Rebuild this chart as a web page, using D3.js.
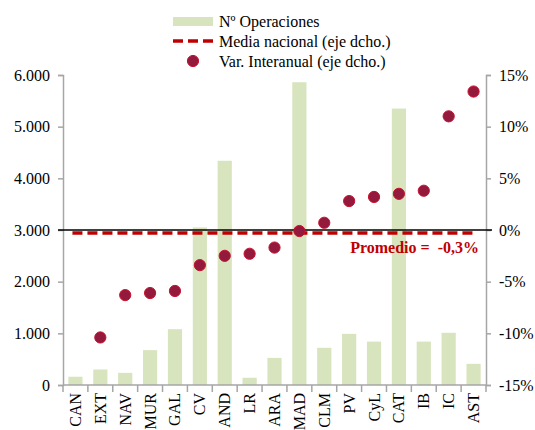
<!DOCTYPE html>
<html>
<head>
<meta charset="utf-8">
<script src="https://cdn.jsdelivr.net/npm/d3@7"></script>
<style>
  body { margin: 0; background: #fff; }
  text { font-family: "Liberation Serif", "Times New Roman", serif; }
</style>
</head>
<body>
<svg id="chart" width="535" height="430"></svg>
<script>
var regiones = ["CAN", "EXT", "NAV", "MUR", "GAL", "CV", "AND", "LR", "ARA", "MAD", "CLM", "PV", "CyL", "CAT", "IB", "IC", "AST"];
var operaciones = [160, 300, 235, 675, 1080, 3050, 4340, 140, 525, 5860, 720, 990, 840, 5350, 840, 1010, 410];
// CAN queda fuera de escala (sin punto)
var varInteranual = [null, -10.4, -6.3, -6.1, -5.9, -3.4, -2.5, -2.3, -1.7, -0.1, 0.7, 2.8, 3.2, 3.5, 3.8, 11.0, 13.4];
var mediaNacional = -0.3;
var ticksIzq = [0, 1000, 2000, 3000, 4000, 5000, 6000];
var ticksDer = [-15, -10, -5, 0, 5, 10, 15];

var svg = d3.select("#chart");
var mLeft = 63, mRight = 486, mTop = 75, mBottom = 385;
var gris = "#a6a6a6", rojo = "#c00000";

var x = d3.scaleBand().domain(regiones).range([mLeft, mRight]).paddingInner(0.43).paddingOuter(0.215);
var xc = d3.scaleBand().domain(regiones).range([mLeft, mRight]);
var yL = d3.scaleLinear().domain([0, 6000]).range([mBottom, mTop]);
var yR = d3.scaleLinear().domain([-15, 15]).range([mBottom, mTop]);
var fmt = function (d) { return d3.format(",")(d).replace(/,/g, "."); };

// barras
svg.append("g").selectAll("rect")
    .data(operaciones)
    .enter()
    .append("rect")
    .attr("x", function (d, i) { return x(regiones[i]); })
    .attr("width", x.bandwidth())
    .attr("y", function (d) { return yL(d); })
    .attr("height", function (d) { return yL(0) - yL(d); })
    .attr("fill", "#d7e4bd");

// ejes
var axL = svg.append("g").attr("transform", "translate(" + mLeft + ",0)")
    .call(d3.axisLeft(yL).tickValues(ticksIzq).tickFormat(fmt).tickSize(5).tickPadding(8));
var axR = svg.append("g").attr("transform", "translate(" + mRight + ",0)")
    .call(d3.axisRight(yR).tickValues(ticksDer).tickFormat(function (d) { return d + "%"; }).tickSize(5).tickPadding(8));
[axL, axR].forEach(function (g) {
    g.select(".domain").attr("stroke", gris).attr("stroke-width", 1.5);
    g.selectAll(".tick line").attr("stroke", gris).attr("stroke-width", 1.5);
    g.selectAll(".tick text").attr("font-size", 16).attr("fill", "#000")
        .style("font-family", "'Liberation Serif', serif");
});

// eje inferior
svg.append("line").attr("x1", mLeft).attr("x2", mRight).attr("y1", mBottom).attr("y2", mBottom)
    .attr("stroke", gris).attr("stroke-width", 1.5);
svg.append("g").selectAll("line")
    .data(regiones.concat(["__fin"]))
    .enter()
    .append("line")
    .attr("x1", function (d, i) { return mLeft + i * xc.bandwidth(); })
    .attr("x2", function (d, i) { return mLeft + i * xc.bandwidth(); })
    .attr("y1", mBottom).attr("y2", mBottom + 7)
    .attr("stroke", gris).attr("stroke-width", 1.5);
svg.append("g").selectAll("text")
    .data(regiones)
    .enter()
    .append("text")
    .attr("transform", function (d) {
        return "translate(" + (xc(d) + xc.bandwidth() / 2 + 5.5) + "," + (mBottom + 8) + ") rotate(-90)";
    })
    .attr("text-anchor", "end")
    .attr("font-size", 16)
    .text(function (d) { return d; });

// línea de cero
svg.append("line").attr("x1", mLeft - 5).attr("x2", mRight + 6)
    .attr("y1", yR(0)).attr("y2", yR(0))
    .attr("stroke", "#000").attr("stroke-width", 1.5);

// media nacional
var cx = function (d) { return xc(d) + xc.bandwidth() / 2; };
svg.append("line")
    .attr("x1", cx(regiones[0]) - 3).attr("x2", cx(regiones[regiones.length - 1]) + 3)
    .attr("y1", yR(mediaNacional)).attr("y2", yR(mediaNacional))
    .attr("stroke", rojo).attr("stroke-width", 3.5).attr("stroke-dasharray", "10,5");

// variación interanual
svg.append("g").selectAll("circle")
    .data(varInteranual.map(function (v, i) { return { r: regiones[i], v: v }; })
        .filter(function (d) { return d.v !== null; }))
    .enter()
    .append("circle")
    .attr("cx", function (d) { return cx(d.r); })
    .attr("cy", function (d) { return yR(d.v); })
    .attr("r", 5.6)
    .attr("fill", "#931a3c")
    .attr("stroke", "#c8102e")
    .attr("stroke-width", 1);

svg.append("text")
    .attr("x", 479).attr("y", yR(mediaNacional) + 20)
    .attr("text-anchor", "end")
    .attr("font-size", 16).attr("font-weight", "bold").attr("fill", rojo)
    .attr("xml:space", "preserve")
    .text("Promedio =  -0,3%");

// leyenda
var leyenda = svg.append("g");
leyenda.append("rect").attr("x", 173).attr("y", 17).attr("width", 40).attr("height", 9).attr("fill", "#d7e4bd");
leyenda.append("line").attr("x1", 173).attr("x2", 213).attr("y1", 41).attr("y2", 41)
    .attr("stroke", rojo).attr("stroke-width", 3.5).attr("stroke-dasharray", "10,5");
leyenda.append("circle").attr("cx", 193).attr("cy", 61).attr("r", 5.6)
    .attr("fill", "#931a3c").attr("stroke", "#c8102e").attr("stroke-width", 1);
var etiquetas = ["Nº Operaciones", "Media nacional (eje dcho.)", "Var. Interanual (eje dcho.)"];
leyenda.selectAll("text")
    .data(etiquetas)
    .enter()
    .append("text")
    .attr("x", 219)
    .attr("y", function (d, i) { return 27 + i * 20; })
    .attr("font-size", 16)
    .text(function (d) { return d; });
</script>
</body>
</html>
